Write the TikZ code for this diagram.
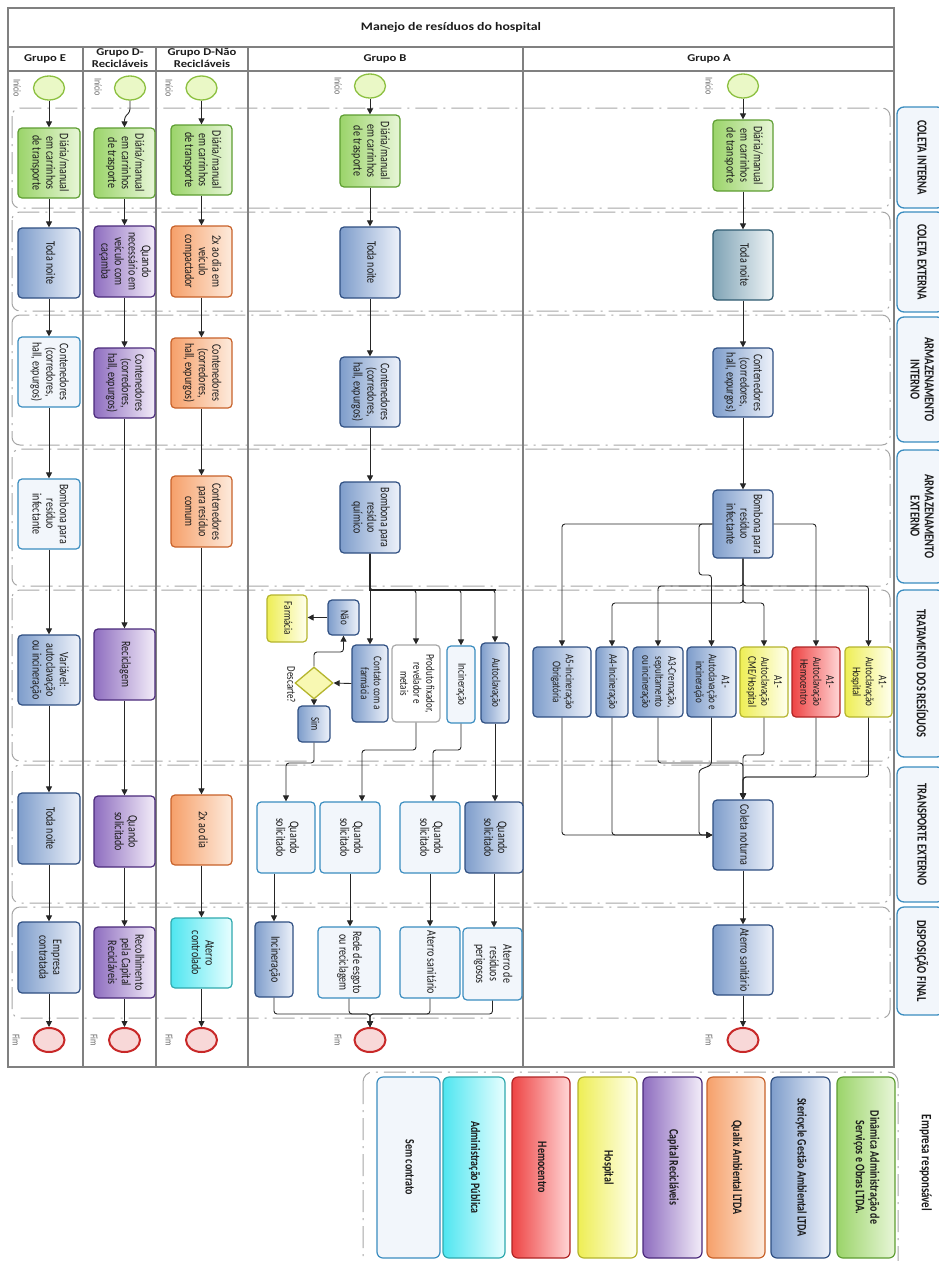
\documentclass[tikz,border=0pt]{standalone}
\usepackage{fontspec}
\setmainfont{Carlito}
\usepackage{graphicx}
\usetikzlibrary{arrows.meta,shapes.geometric,calc}

\definecolor{grnB}{HTML}{5E9E32}\definecolor{grnL}{HTML}{9BD46A}\definecolor{grnR}{HTML}{E8F6D8}
\definecolor{bluB}{HTML}{2F4F82}\definecolor{bluL}{HTML}{7E9DCB}\definecolor{bluR}{HTML}{EEF2FA}
\definecolor{tealB}{HTML}{2E5A70}\definecolor{tealL}{HTML}{7FA3B5}\definecolor{tealR}{HTML}{F0F5F7}
\definecolor{ltB}{HTML}{3A8DC0}\definecolor{ltF}{HTML}{F2F6FB}
\definecolor{purB}{HTML}{4B2A7B}\definecolor{purL}{HTML}{8E6DBF}\definecolor{purR}{HTML}{F3EDF9}
\definecolor{orgB}{HTML}{C8622A}\definecolor{orgL}{HTML}{F6A06A}\definecolor{orgR}{HTML}{FDEBDD}
\definecolor{cyB}{HTML}{2FA9AE}\definecolor{cyL}{HTML}{4FE6F0}\definecolor{cyR}{HTML}{E8FEFF}
\definecolor{yelB}{HTML}{B5B52D}\definecolor{yelL}{HTML}{EEEE55}\definecolor{yelR}{HTML}{FFFFF0}
\definecolor{redB}{HTML}{B02424}\definecolor{redL}{HTML}{EE4444}\definecolor{redR}{HTML}{FFD6D6}
\definecolor{gryB}{HTML}{A8A8A8}
\definecolor{stB}{HTML}{8CC040}\definecolor{stF}{HTML}{EAF8C6}
\definecolor{enB}{HTML}{C82828}\definecolor{enF}{HTML}{F8D8D8}
\definecolor{txt}{HTML}{1C1C1C}

\newcommand\rt[1]{\rotatebox{-90}{\scalebox{1}[1.3]{\begin{tabular}{@{}c@{}}#1\end{tabular}}}}
\newcommand\hdr[1]{\scalebox{1.2}[1]{\begin{tabular}{@{}c@{}}#1\end{tabular}}}
\newcommand\tsk[7]{\node[#2, minimum width={#5-#3}, minimum height={#6-#4}] (#1) at ({(#3+#5)/2},{(#4+#6)/2}) {\rt{#7}};}

\tikzset{
  tk/.style={rectangle, rounded corners=4pt, line width=1.2pt, inner sep=0pt, text=txt,
    font=\fontsize{10}{10.5}\selectfont},
  sm/.style={font=\fontsize{9}{10}\selectfont},
  tgreen/.style={tk, draw=grnB, left color=grnL, right color=grnR},
  tblue/.style={tk, draw=bluB, left color=bluL, right color=bluR},
  tteal/.style={tk, draw=tealB, left color=tealL, right color=tealR},
  tlight/.style={tk, draw=ltB, fill=ltF},
  twhite/.style={tk, draw=gryB, fill=white},
  tpurple/.style={tk, draw=purB, left color=purL, right color=purR},
  torange/.style={tk, draw=orgB, left color=orgL, right color=orgR},
  tcyan/.style={tk, draw=cyB, left color=cyL, right color=cyR},
  tyellow/.style={tk, draw=yelB, left color=yelL, right color=yelR},
  tred/.style={tk, draw=redB, left color=redL, right color=redR},
  lg/.style={font=\bfseries\fontsize{10}{11}\selectfont, rounded corners=6pt},
  lanelab/.style={tk, draw=ltB, fill=ltF, rounded corners=7pt, line width=1.3pt,
    font=\bfseries\fontsize{10.5}{11}\selectfont},
  startev/.style={ellipse, minimum width=31pt, minimum height=24pt, inner sep=0pt,
    draw=stB, line width=1.3pt, fill=stF},
  endev/.style={ellipse, minimum width=31pt, minimum height=24pt, inner sep=0pt,
    draw=enB, line width=2pt, fill=enF},
  dec/.style={diamond, minimum width=38pt, minimum height=32pt, inner sep=0pt,
    draw=yelB, line width=1.3pt, fill=yelR!60!yelL},
  evl/.style={font=\fontsize{8}{9}\selectfont, text=black!60, inner sep=0pt},
  arr/.style={draw=black!85, line width=0.9pt, rounded corners=3pt,
    -{Triangle[length=6pt,width=6pt]}},
  lane/.style={draw=black!35, line width=1pt, rounded corners=8pt,
    dash pattern=on 22pt off 6pt on 2pt off 6pt},
  pool/.style={draw=black!50, line width=1.1pt},
  hd/.style={font=\bfseries\fontsize{10.5}{11.5}\selectfont, text=txt, inner sep=0pt}
}

\begin{document}
\begin{tikzpicture}[x=1pt,y=-1pt]
\useasboundingbox (0,0) rectangle (939,1261);
\clip (0,0) rectangle (939,1261);
\fill[white] (0,0) rectangle (939,1261);

% lanes
\draw[lane] (12,108) rectangle (890,208);
\draw[lane] (12,212) rectangle (890,311);
\draw[lane] (12,315) rectangle (890,445);
\draw[lane] (12,449) rectangle (890,586);
\draw[lane] (12,590) rectangle (890,761);
\draw[lane] (12,765) rectangle (890,903);
\draw[lane] (12,907) rectangle (890,1018);

% pool
\draw[pool] (8,8) rectangle (894,1067);
\draw[pool] (8,47) -- (894,47);
\draw[pool] (8,71) -- (894,71);
\foreach \xx in {83,156,248,523} \draw[pool] (\xx,47) -- (\xx,1067);

\node[hd, font=\bfseries\fontsize{11.5}{12}\selectfont] (title) at (451,28) {\hdr{Manejo de resíduos do hospital}};
\node[hd] (hE) at (45,59) {\hdr{Grupo E}};
\node[hd] (hR) at (120,59) {\hdr{Grupo D-\\Recicláveis}};
\node[hd] (hN) at (202,59) {\hdr{Grupo D-Não\\Recicláveis}};
\node[hd] (hB) at (385,59) {\hdr{Grupo B}};
\node[hd] (hA) at (709,59) {\hdr{Grupo A}};

% lane labels
\tsk{ll1}{lanelab}{897}{107}{944}{208}{COLETA INTERNA}
\tsk{ll2}{lanelab}{897}{212}{944}{312}{COLETA EXTERNA}
\tsk{ll3}{lanelab}{897}{317}{944}{442}{ARMAZENAMENTO\\INTERNO}
\tsk{ll4}{lanelab}{897}{450}{944}{583}{ARMAZENAMENTO\\EXTERNO}
\tsk{ll5}{lanelab}{897}{590}{944}{757}{TRATAMENTO DOS RESÍDUOS}
\tsk{ll6}{lanelab}{897}{767}{944}{902}{TRANSPORTE EXTERNO}
\tsk{ll7}{lanelab}{897}{907}{944}{1015}{DISPOSIÇÃO FINAL}

% events
\node[startev] (sE) at (49,88) {};
\node[startev] (sR) at (130,88) {};
\node[startev] (sN) at (201.5,88) {};
\node[startev] (sB) at (370,86) {};
\node[startev] (sA) at (743,86) {};
\node[endev] (fE) at (49,1040) {};
\node[endev] (fR) at (124.5,1040) {};
\node[endev] (fN) at (201.5,1040) {};
\node[endev] (fB) at (370,1040) {};
\node[endev] (fA) at (743,1040) {};
\node[evl] (lsE) at (16,88) {\rt{Início}};
\node[evl] (lsR) at (97,87) {\rt{Início}};
\node[evl] (lsN) at (168,88) {\rt{Início}};
\node[evl] (lsB) at (337,86) {\rt{Início}};
\node[evl] (lsA) at (708,86) {\rt{Início}};
\node[evl] (lfE) at (15,1040) {\rt{Fim}};
\node[evl] (lfR) at (93,1040) {\rt{Fim}};
\node[evl] (lfN) at (168,1040) {\rt{Fim}};
\node[evl] (lfB) at (337,1040) {\rt{Fim}};
\node[evl] (lfA) at (708,1040) {\rt{Fim}};

% Grupo E
\tsk{e1}{tgreen}{18}{128}{80}{198}{Diária/manual\\em carrinhos\\de transporte}
\tsk{e2}{tblue}{18}{228}{80}{298}{Toda noite}
\tsk{e3}{tlight}{18}{337}{80}{407}{Contenedores\\(corredores,\\hall, expurgos)}
\tsk{e4}{tlight}{18}{479}{80}{549}{Bombona para\\resíduo\\infectante}
\tsk{e5}{tblue}{18}{635}{80}{705}{Variável:\\autoclavação\\ou incineração}
\tsk{e6}{tblue}{18}{793}{80}{864}{Toda noite}
\tsk{e7}{tblue}{18}{922}{80}{993}{Empresa\\contratada}

% Grupo D-Reciclaveis
\tsk{r1}{tgreen}{94}{128}{155}{198}{Diária/manual\\em carrinhos\\de trasporte}
\tsk{r2}{tpurple}{94}{226}{155}{297}{Quando\\necessário em\\veículo com\\caçamba}
\tsk{r3}{tpurple}{94}{348}{155}{418}{Contenedores\\(corredores,\\hall, expurgos)}
\tsk{r5}{tpurple}{94}{629}{155}{700}{Reciclagem}
\tsk{r6}{tpurple}{94}{796}{155}{867}{Quando\\solicitado}
\tsk{r7}{tpurple}{94}{927}{155}{998}{Recolhimento\\pela Capital\\Recicláveis}

% Grupo D-Nao Reciclaveis
\tsk{n1}{tgreen}{171}{125}{232}{195}{Diária/manual\\em carrinhos\\de transporte}
\tsk{n2}{torange}{171}{226}{232}{297}{2x ao dia em\\veículo\\compactador}
\tsk{n3}{torange}{171}{338}{232}{408}{Contenedores\\(corredores,\\hall, expurgos)}
\tsk{n4}{torange}{171}{476}{232}{547}{Contenedores\\para resíduo\\comum}
\tsk{n6}{torange}{171}{795}{232}{865}{2x ao dia}
\tsk{n7}{tcyan}{171}{918}{232}{988}{Aterro\\controlado}

% Grupo B
\tsk{b1}{tgreen}{340}{115}{400}{187}{Diária/manual\\em carrinhos\\de trasporte}
\tsk{b2}{tblue}{340}{227}{400}{298}{Toda noite}
\tsk{b3}{tblue}{340}{357}{400}{427}{Contenedores\\(corredores,\\hall, expurgos)}
\tsk{b4}{tblue}{340}{482}{400}{553}{Bombona para\\resíduo\\químico}
\tsk{contato}{tblue,sm}{352}{645}{388}{722}{Contato com a\\farmácia}
\tsk{produto}{twhite,sm}{392}{645}{440}{722}{Produto fixador,\\revelador e\\metais}
\tsk{incinB}{tlight,sm}{447}{646}{475}{723}{Incineração}
\tsk{autoB}{tblue,sm}{481}{643}{509}{723}{Autoclavação}
\tsk{nao}{tblue,sm}{328}{600}{359}{635}{Não}
\tsk{farm}{tyellow,sm}{267}{595}{307}{642}{Farmácia}
\tsk{sim}{tblue,sm}{298}{706}{330}{742}{Sim}
\node[dec] (dia) at (314,683) {};
\node[evl, font=\fontsize{9}{10}\selectfont, text=txt] (ldia) at (290,685) {\rt{Descarte?}};
\tsk{qs1}{tlight}{257}{802}{315}{873}{Quando\\solicitado}
\tsk{qs2}{tlight}{320}{802}{380}{873}{Quando\\solicitado}
\tsk{qs3}{tlight}{400}{802}{460}{873}{Quando\\solicitado}
\tsk{qs4}{tblue}{465}{802}{523}{873}{Quando\\solicitado}
\tsk{incB2}{tblue}{255}{922}{293}{997}{Incineração}
\tsk{rede}{tlight}{318}{927}{380}{998}{Rede de esgoto\\ou reciclagem}
\tsk{aterroS}{tlight}{400}{927}{460}{998}{Aterro sanitário}
\tsk{aterroP}{tlight}{463}{928}{522}{1000}{Aterro de\\resíduos\\perigosos}

% Grupo A
\tsk{a1}{tgreen}{713}{120}{773}{191}{Diária/manual\\em carrinhos\\de transporte}
\tsk{a2}{tteal}{713}{230}{773}{300}{Toda noite}
\tsk{a3}{tblue}{713}{348}{773}{417}{Contenedores\\(corredores,\\hall, expurgos)}
\tsk{a4}{tblue}{713}{490}{773}{558}{Bombona para\\resíduo\\infectante}
\tsk{A5}{tblue,sm}{533}{647}{591}{717}{A5-Incineração\\Obrigatória}
\tsk{A4}{tblue,sm}{596}{647}{628}{717}{A4-Incineração}
\tsk{A3}{tblue,sm}{633}{647}{683}{717}{A3-Cremação,\\sepultamento\\ou incineração}
\tsk{A1a}{tblue,sm}{687}{647}{736}{717}{A1-\\Autoclavação e\\incineração}
\tsk{A1b}{tyellow,sm}{740}{647}{788}{717}{A1-\\Autoclavação\\CME/Hospital}
\tsk{A1c}{tred,sm}{792}{647}{840}{717}{A1-\\Autoclavação\\Hemocentro}
\tsk{A1d}{tyellow,sm}{845}{647}{892}{717}{A1-\\Autoclavação\\Hospital}
\tsk{coln}{tblue}{713}{800}{773}{870}{Coleta noturna}
\tsk{aterA}{tblue}{713}{925}{773}{995}{Aterro sanitário}

% legend
\draw[lane, rounded corners=10pt] (363,1072) rectangle (898,1290);
\tsk{lgS}{tlight,lg}{377}{1077}{440}{1258}{Sem contrato}
\tsk{lgA}{tcyan,lg}{443}{1077}{505}{1258}{Administração Pública}
\tsk{lgH}{tred,lg}{512}{1077}{570}{1258}{Hemocentro}
\tsk{lgHo}{tyellow,lg}{578}{1077}{637}{1258}{Hospital}
\tsk{lgC}{tpurple,lg}{643}{1077}{702}{1258}{Capital Recicláveis}
\tsk{lgQ}{torange,lg}{707}{1077}{765}{1258}{Qualix Ambiental LTDA}
\tsk{lgSt}{tblue,lg}{771}{1077}{830}{1258}{Stericycle Gestão Ambiental LTDA}
\tsk{lgD}{tgreen,lg}{837}{1077}{895}{1258}{Dinâmica Administração de\\Serviços e Obras LTDA.}
\node[hd, font=\bfseries\fontsize{11}{12}\selectfont] (emp) at (925,1163) {\rt{Empresa responsável}};

% connectors: straight chains
\foreach \p/\q in {sE/e1,e1/e2,e2/e3,e3/e4,e4/e5,e5/e6,e6/e7,e7/fE,
  r1/r2,r2/r3,r3/r5,r5/r6,r6/r7,r7/fR,
  sN/n1,n1/n2,n2/n3,n3/n4,n4/n6,n6/n7,n7/fN,
  sB/b1,b1/b2,b2/b3,b3/b4,
  sA/a1,a1/a2,a2/a3,a3/a4,coln/aterA,aterA/fA}
  \draw[arr] (\p) -- (\q);
\draw[arr] (sR.south) -- (130,112) -- (124.5,117) -- (r1.north);

% Grupo B
\coordinate (jB) at (370,590);
\draw[draw=black!85, line width=1.8pt] (b4.south) -- (jB) -- (496,590);
\draw[arr] (b4.south) -- (contato.north);
\draw[arr] (b4.south) -- (jB) -| (produto.north);
\draw[arr] (b4.south) -- (jB) -| (incinB.north);
\draw[arr] (b4.south) -- (jB) -| (autoB.north);
\draw[arr] (contato.west) -- (dia.east);
\draw[arr] (dia.north) |- (343.5,652) -- (nao.south);
\draw[arr] (nao.west) -- (farm.east |- nao.west);
\draw[arr] (dia.south) -- (sim.north);
\draw[arr] (sim.south) |- (286,763) -- (qs1.north);
\draw[arr] (produto.south) |- (362,750) -- ([xshift=12pt]qs2.north);
\draw[arr] (incinB.south) |- (433,750) -- ([xshift=3pt]qs3.north);
\draw[arr] (autoB.south) -- (autoB.south |- qs4.north);
\draw[arr] (qs1.south -| incB2.north) -- (incB2.north);
\draw[arr] (qs2.south) -- (qs2.south |- rede.north);
\draw[arr] (qs3.south) -- (qs3.south |- aterroS.north);
\draw[arr] (qs4.south) -- (qs4.south |- aterroP.north);
\coordinate (mB) at (370,1014);
\draw[arr] (incB2.south) |- (mB) -- (fB.north);
\draw[arr] (rede.south) |- (mB) -- (fB.north);
\draw[arr] (aterroS.south) |- (mB) -- (fB.north);
\draw[arr] (aterroP.south) |- (mB) -- (fB.north);

% Grupo A
\draw[arr] (a4.west) -| (A5.north);
\draw[arr] (a4.east) -| (A1c.north);
\draw[arr] (a4.south) -- (743,603) -| (A4.north);
\draw[arr] (a4.south) -- (743,603) -| (A1b.north);
\draw[arr] (a4.south) -- (743,586) -| (A3.north);
\draw[arr] (a4.south) -- (743,586) -| (A1d.north);
\draw[arr] (a4.west) -- (699,524) |- (711.5,575) -- (A1a.north);
\draw[arr] (A5.south) |- (coln.west);
\draw[arr] (A4.south) |- (coln.west);
\draw[arr] (A1a.south) -- (711.5,765) -- (699,770) |- (coln.west);
\draw[arr] (A3.south) |- (743,763) -- (coln.north);
\draw[arr] (A1b.south) |- (743,755) -- (coln.north);
\draw[arr] (A1c.south) |- (743,777) -- (coln.north);
\draw[arr] (A1d.south) |- (743,777) -- (coln.north);
\end{tikzpicture}
\end{document}
